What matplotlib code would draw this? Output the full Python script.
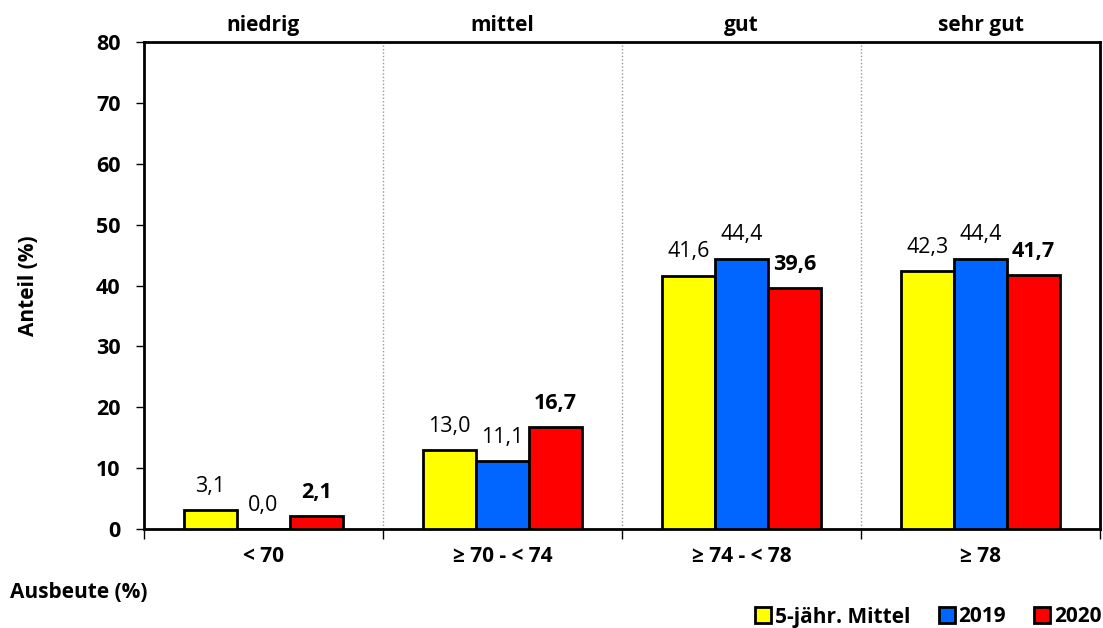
import matplotlib
matplotlib.use("Agg")
import matplotlib.pyplot as plt
import numpy as np
from matplotlib.lines import Line2D

plt.rcParams['font.family'] = ['Open Sans', 'DejaVu Sans']

categories = ["< 70", "≥ 70 - < 74", "≥ 74 - < 78", "≥ 78"]
groups_top = ["niedrig", "mittel", "gut", "sehr gut"]
series_names = ["5-jähr. Mittel", "2019", "2020"]
mittel = [3.1, 13.0, 41.6, 42.3]
y2019 = [0.0, 11.1, 44.4, 44.4]
y2020 = [2.1, 16.7, 39.6, 41.7]
colors = ["#FFFF00", "#0066FF", "#FF0000"]
yticks = [0, 10, 20, 30, 40, 50, 60, 70, 80]

FN = 15.5   # numbers
FT = 15     # words

fig = plt.figure(figsize=(11.03, 6.28), dpi=100)
ax = fig.add_axes([144/1103, 1-529/628, 956/1103, 487/628])

x = np.arange(len(categories))
w = 0.222
data = [mittel, y2019, y2020]
for i, (vals, col) in enumerate(zip(data, colors)):
    pos = x + (i - 1) * w
    ax.bar(pos, vals, width=w, color=col, edgecolor='black', linewidth=2, zorder=3)
    for p, v in zip(pos, vals):
        ax.text(p, v + 3.0, f"{v:.1f}".replace('.', ','), ha='center', va='baseline',
                fontsize=FN, fontweight='bold' if i == 2 else 'normal', zorder=4)

ax.set_xlim(-0.5, len(categories) - 0.5)
ax.set_ylim(0, 80)
ax.set_yticks(yticks)
ax.set_yticklabels([str(t) for t in yticks], fontsize=FN, fontweight='bold')
ax.set_xticks(x)
ax.set_xticklabels(categories, fontsize=FT, fontweight='bold')
ax.tick_params(axis='x', length=0, pad=12)
ax.tick_params(axis='y', length=6, width=1, direction='out', pad=11)
ax.set_xticks(np.arange(-0.5, len(categories) + 0.5, 1), minor=True)
ax.tick_params(axis='x', which='minor', length=7, width=1, direction='out', color='black')

for b in np.arange(0.5, len(categories) - 0.5, 1):
    ax.axvline(b, color='#999999', linestyle=(0, (1, 1.5)), linewidth=1, zorder=1)

for s in ax.spines.values():
    s.set_linewidth(2)
    s.set_color('black')

for xi, g in zip(x, groups_top):
    ax.text(xi, 81.8, g, ha='center', va='baseline', fontsize=FT, fontweight='bold')

fig.text(29/1103, 1-286/628, "Anteil (%)", fontsize=FT, fontweight='bold',
         rotation=90, ha='center', va='center')
fig.text(10/1103, 1-593/628, "Ausbeute (%)", fontsize=FT, fontweight='bold', va='center', ha='left')

handles = [Line2D([0], [0], marker='s', linestyle='none', markersize=11,
                  markerfacecolor=c, markeredgecolor='black', markeredgewidth=2)
           for c in colors]
leg = fig.legend(handles, series_names, loc='center right', bbox_to_anchor=(1120/1103, 1-617/628),
                 ncol=3, frameon=False, handletextpad=0.0, columnspacing=1.2,
                 handlelength=1.1, prop={'weight': 'bold', 'size': FT})

fig.savefig("out.png", dpi=100)
